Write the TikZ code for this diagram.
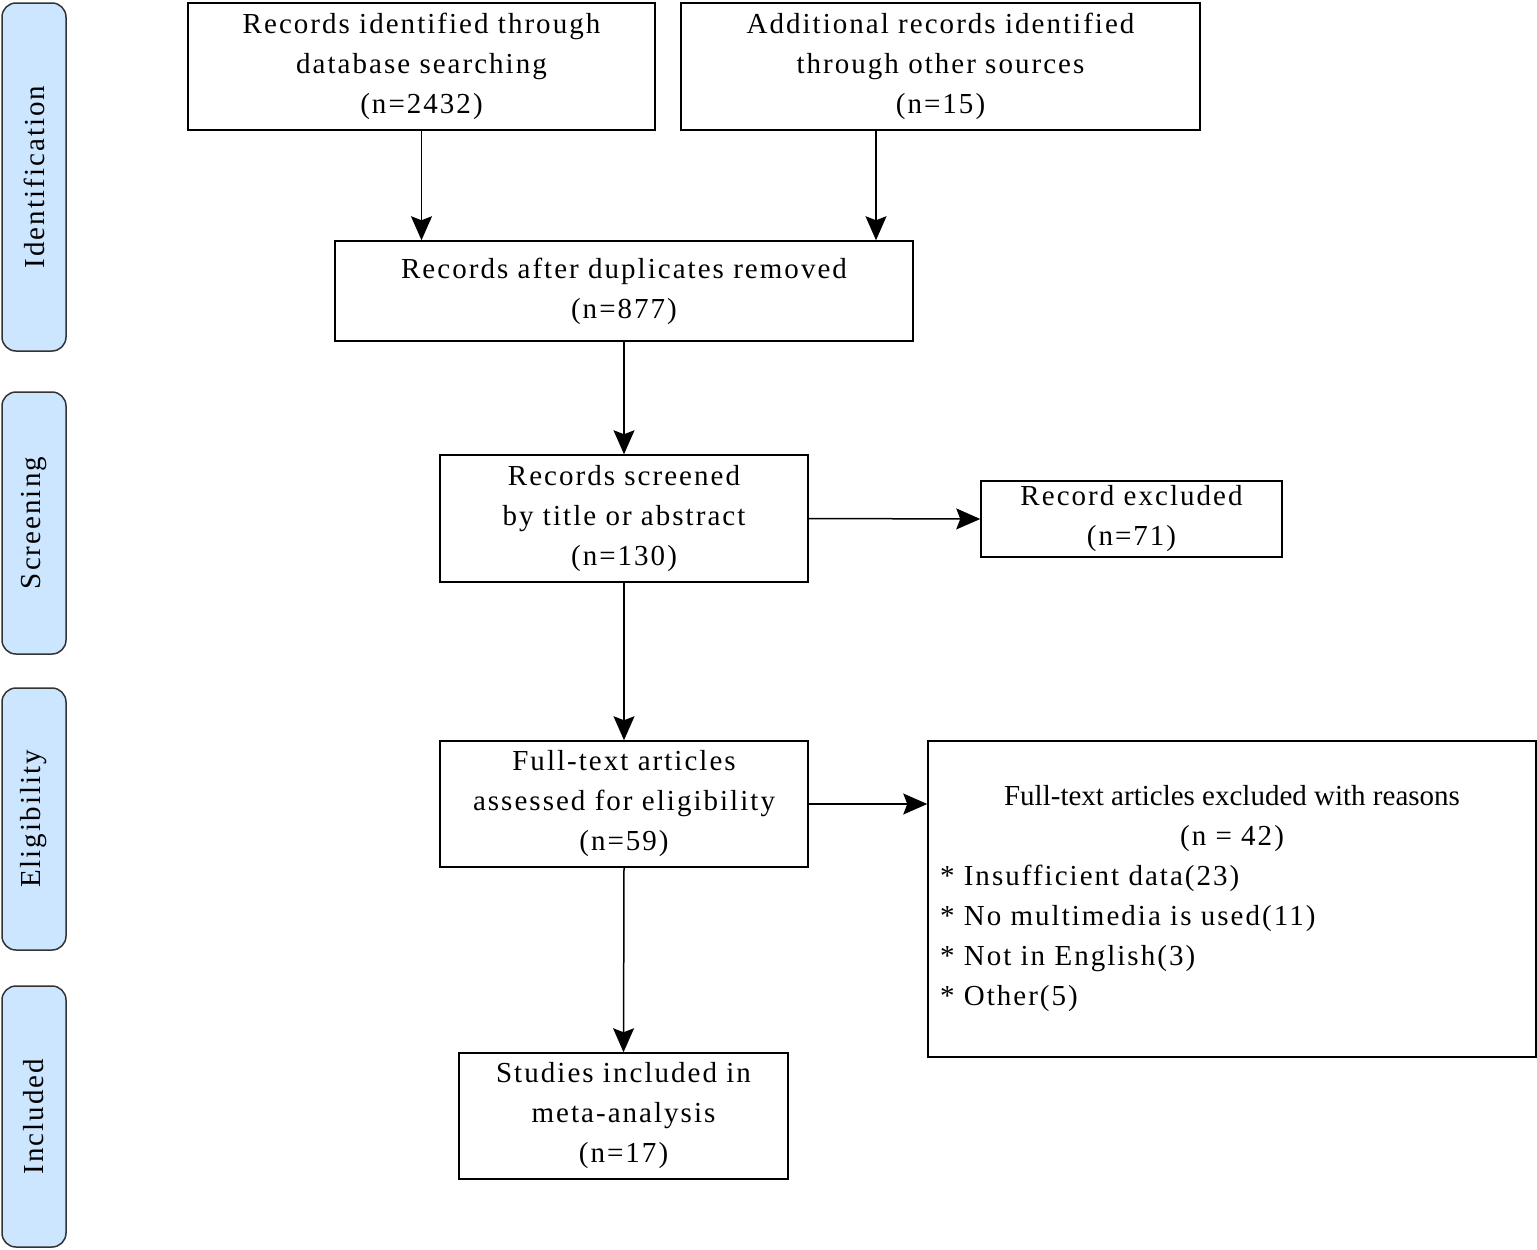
\documentclass[tikz,border=0pt]{standalone}
\usepackage{fontspec}
\setmainfont{Liberation Serif}[LetterSpace=7]
\newfontfamily\plainserif{Liberation Serif}
\usetikzlibrary{arrows.meta}
\definecolor{bandblue}{HTML}{CCE6FF}
\definecolor{banddraw}{HTML}{333333}
\begin{document}
\begin{tikzpicture}[x=1pt,y=-1pt,
  txt/.style={font=\fontsize{29}{40}\selectfont},
  box/.style={txt, draw, line width=1.5pt, align=center, inner sep=0pt},
  band/.style={txt, draw=banddraw, line width=1.5pt, fill=bandblue, rounded corners=14pt, inner sep=0pt, minimum width=64pt},
  arr/.style={-{Stealth[length=24pt,width=21pt,inset=4pt]}, line width=1.5pt}]
\useasboundingbox (0,0) rectangle (1537,1250);
% side bands
\node[band, minimum height=348pt] (bid) at (34,177) {\rotatebox{90}{Identification}};
\node[band, minimum height=262pt] (bsc) at (34,523) {\rotatebox{90}{Screening}};
\node[band, minimum height=262pt] (bel) at (34,819) {\rotatebox{90}{Eligibility}};
\node[band, minimum height=261pt] (bin) at (34,1116.5) {\rotatebox{90}{Included}};
% boxes
\node[box, minimum width=467pt, minimum height=127pt] (b1) at (421.5,66.5)
  {Records identified through\\database searching\\(n=2432)};
\node[box, minimum width=519pt, minimum height=127pt] (b2) at (940.5,66.5)
  {Additional records identified\\through other sources\\(n=15)};
\node[box, minimum width=578pt, minimum height=100pt] (b3) at (624,291)
  {Records after duplicates removed\\(n=877)};
\node[box, minimum width=368pt, minimum height=127pt] (b4) at (624,518.5)
  {Records screened\\by title or abstract\\(n=130)};
\node[box, minimum width=301pt, minimum height=76pt] (b5) at (1131.5,519)
  {Record excluded\\(n=71)};
\node[box, minimum width=368pt, minimum height=126pt] (b6) at (624,804)
  {Full-text articles\\assessed for eligibility\\(n=59)};
\node[box, minimum width=608pt, minimum height=316pt] (b7) at (1232,899)
  {{\plainserif Full-text articles excluded with reasons}\\(n = 42)\\
   \makebox[584pt][l]{* Insufficient data(23)}\\
   \makebox[584pt][l]{* No multimedia is used(11)}\\
   \makebox[584pt][l]{* Not in English(3)}\\
   \makebox[584pt][l]{* Other(5)}};
\node[box, minimum width=329pt, minimum height=126pt] (b8) at (623.5,1116)
  {Studies included in\\meta-analysis\\(n=17)};
% connectors
\draw[arr] (b1.south) -- (b1.south |- b3.north);
\draw[arr] ([xshift=-64.5pt]b2.south) -- ([xshift=-64.5pt]b2.south |- b3.north);
\draw[arr] (b3.south) -- (b4.north);
\draw[arr] (b4.east) -- (b5.west);
\draw[arr] (b4.south) -- (b6.north);
\draw[arr] (b6.east) -- (b6.east -| b7.west);
\draw[arr] (b6.south) -- (b8.north);
\end{tikzpicture}
\end{document}
